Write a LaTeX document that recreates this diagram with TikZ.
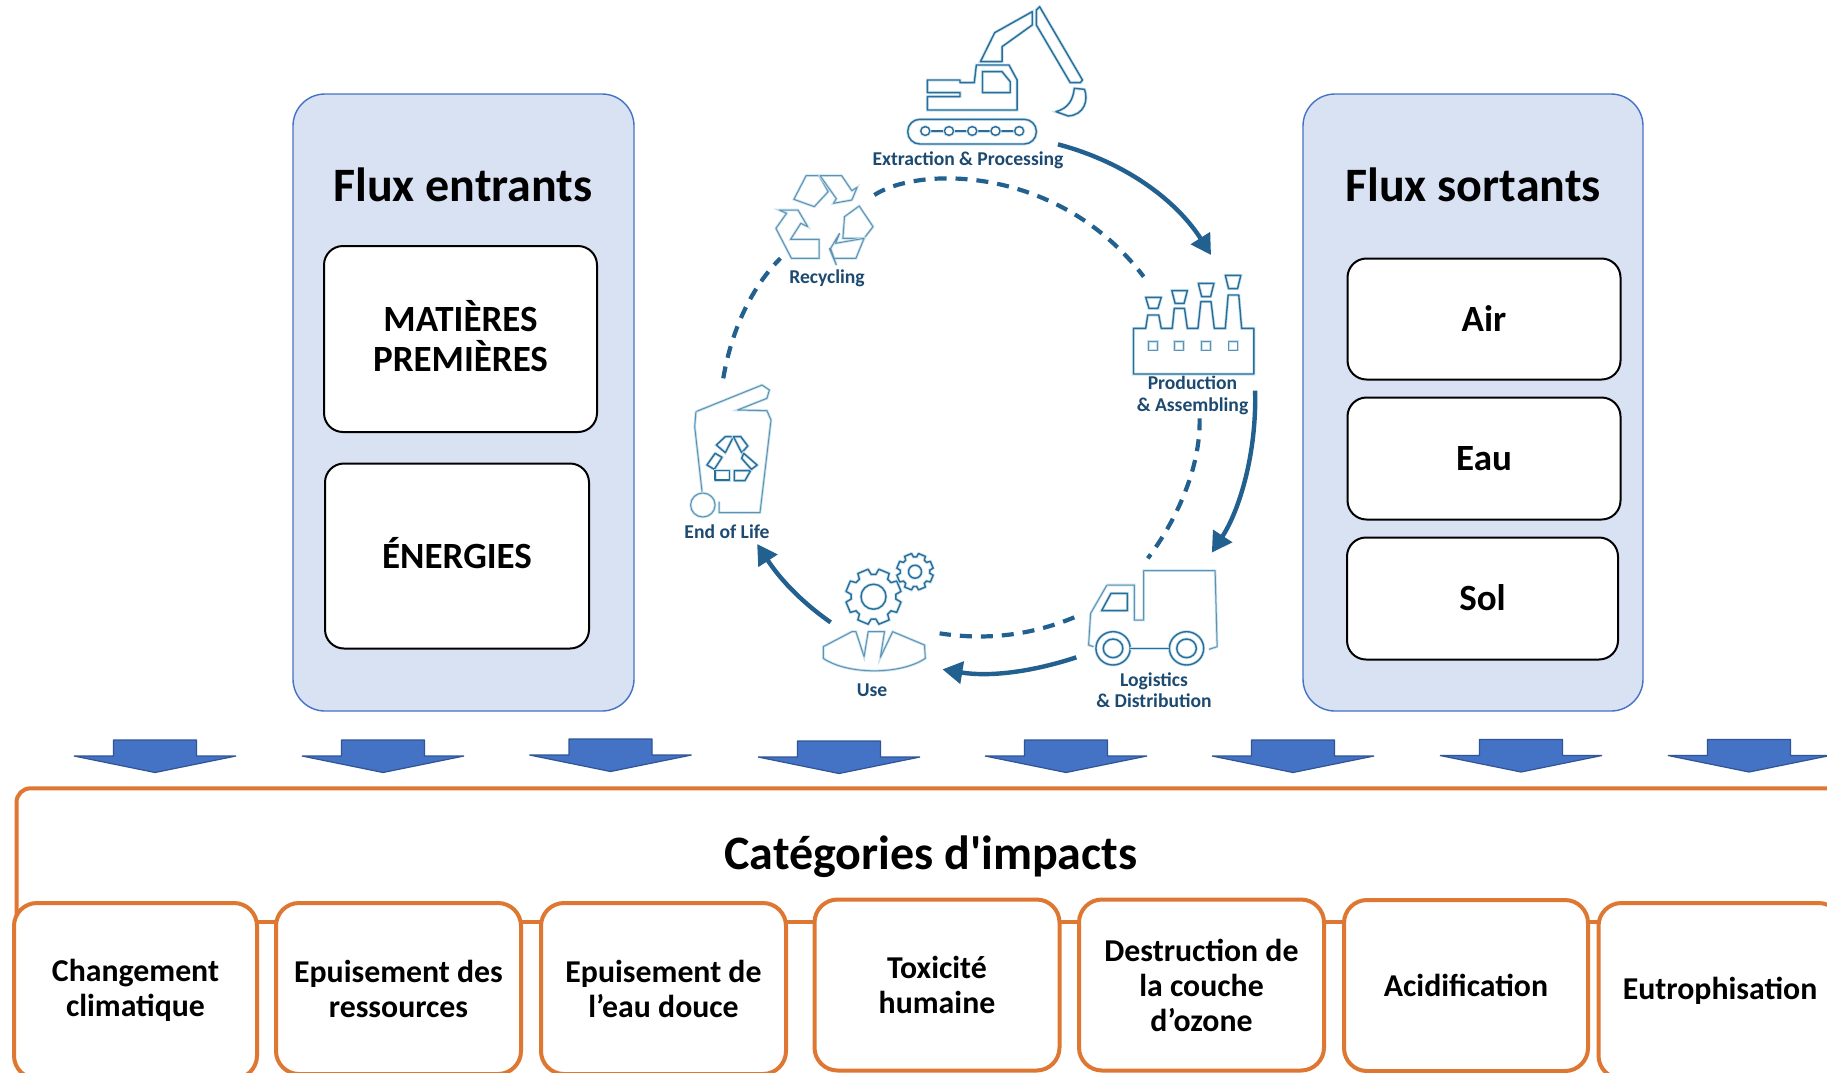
\documentclass[tikz,border=0pt]{standalone}
\usepackage{fontspec}
\newfontfamily\cb{Carlito}
\definecolor{panelfill}{HTML}{D9E2F3}
\definecolor{panelline}{HTML}{4472C4}
\definecolor{arrowline}{HTML}{2F5597}
\definecolor{orangeline}{HTML}{DE7731}
\definecolor{cyc}{HTML}{22608F}
\definecolor{cyctext}{HTML}{1D4A70}
\definecolor{halo}{HTML}{C4E2EE}
\definecolor{icon}{HTML}{2C6C98}
\usetikzlibrary{arrows.meta}
\tikzset{
 panel/.style={draw=panelline,fill=panelfill,line width=1.4pt,rounded corners=32pt,rectangle,inner sep=0pt},
 whitebox/.style={draw=black,fill=white,line width=2pt,rounded corners=19pt,rectangle,inner sep=0pt,align=center,font=\cb\bfseries\fontsize{37}{40}\selectfont},
 paneltitle/.style={inner sep=0pt,font=\cb\bfseries\fontsize{48}{54}\selectfont,text=black},
 impactbox/.style={draw=orangeline,fill=white,line width=4pt,rounded corners=23pt,rectangle,inner sep=0pt,align=center,font=\cb\bfseries\fontsize{31.8}{35}\selectfont},
 downarrow/.style={fill=panelline,draw=arrowline,line width=1.2pt,line join=bevel},
 cycarrow/.style={draw=cyc,line width=4.4pt,-{Triangle[length=20pt,width=22pt]}},
 cycdash/.style={draw=cyc,line width=4.2pt,dash pattern=on 12pt off 9pt},
 iconline/.style={draw=icon,line width=1.4pt,line join=round,preaction={draw=halo,line width=3pt}},
 lightline/.style={draw=icon!75,line width=1pt,line join=round,preaction={draw=halo,line width=2.6pt}},
 iconlabel/.style={inner sep=0pt,align=center,text=cyctext,font=\cb\bfseries\fontsize{19.6}{21.5}\selectfont},
}
\newcommand{\gearicon}[4]{% x, y, outer radius, inner radius
 \begin{scope}[shift={(#1,#2)},x=1pt,y=1pt]
  \draw[iconline] (0:{#3*.8})
   \foreach \a in {0,45,...,315}{
     -- ({\a+6}:{#3*.8}) -- ({\a+11}:#3) -- ({\a+34}:#3) -- ({\a+39}:{#3*.8}) -- ({\a+45}:{#3*.8})
   } -- cycle;
  \draw[iconline] (0,0) circle (#4);
 \end{scope}}
\newcommand{\downblock}[2]{% centre x, top y
 \draw[downarrow] ({#1-41.5},#2) -- ({#1+41.5},#2) -- ({#1+41.5},{#2+16}) -- ({#1+81},{#2+16}) -- (#1,{#2+32.5}) -- ({#1-81},{#2+16}) -- ({#1-41.5},{#2+16}) -- cycle;}
\begin{document}
\begin{tikzpicture}[x=1pt,y=-1pt]
\useasboundingbox (0,0) rectangle (1827,1072);
\clip (0,0) rectangle (1827,1072);
\fill[white] (0,0) rectangle (1827,1072);

% side panels
\node[panel,minimum width=341pt,minimum height=617pt] (leftpanel) at (463.5,402.5) {};
\node[panel,minimum width=340pt,minimum height=617pt] (rightpanel) at (1473,402.5) {};
\node[paneltitle] (fluxin) at (463,184.5) {Flux entrants};
\node[paneltitle] (fluxout) at (1473,184.5) {Flux sortants};
\node[whitebox,minimum width=273pt,minimum height=186pt] (matieres) at (460.5,339) {\raisebox{5.5pt}{MATIÈRES}\\\raisebox{5.5pt}{PREMIÈRES}};
\node[whitebox,minimum width=264pt,minimum height=185pt] (energies) at (457,556) {\raisebox{6.5pt}{ÉNERGIES}};
\node[whitebox,minimum width=273pt,minimum height=121pt] (air) at (1484,319) {\raisebox{1pt}{Air}};
\node[whitebox,minimum width=273pt,minimum height=122pt] (eau) at (1484,458.5) {\raisebox{1pt}{Eau}};
\node[whitebox,minimum width=271pt,minimum height=122pt] (sol) at (1482.5,598.5) {\raisebox{1pt}{Sol}};

% down arrows
\downblock{155}{740}
\downblock{383}{740}
\downblock{610.5}{739}
\downblock{839}{741}
\downblock{1066}{740}
\downblock{1293}{740}
\downblock{1521}{739.5}
\downblock{1749}{739.5}

% impacts
\draw[draw=orangeline,line width=4pt,rounded corners=14pt] (16.5,925) -- (16.5,788.3) -- (1900,788.3);
\draw[draw=orangeline,line width=4pt] (16.5,921.7) -- (1900,921.7);
\node[paneltitle] (impacttitle) at (931,857) {Catégories d'impacts};
\node[impactbox,minimum width=243pt,minimum height=175.6pt] (b1) at (135.5,990.8) {Changement\\climatique};
\node[impactbox,minimum width=245pt,minimum height=171pt] (b2) at (398.5,988.5) {Epuisement des\\ressources};
\node[impactbox,minimum width=245pt,minimum height=171pt] (b3) at (663.5,988.5) {Epuisement de\\l’eau douce};
\node[impactbox,minimum width=245pt,minimum height=171pt] (b4) at (937,985) {Toxicité\\humaine};
\node[impactbox,minimum width=245pt,minimum height=171pt] (b5) at (1201.5,985) {Destruction de\\la couche\\d’ozone};
\node[impactbox,minimum width=244pt,minimum height=171pt] (b6) at (1466,985.5) {Acidification};
\node[impactbox,minimum width=243pt,minimum height=175.6pt] (b7) at (1720,990.8) {Eutrophisation};

% cycle labels
\node[iconlabel] (lextract) at (968,160.5) {Extraction \& Processing};
\node[iconlabel] (lrecycle) at (827,278) {Recycling};
\node[iconlabel] (lprod) at (1192.5,395.5) {Production\\\& Assembling};
\node[iconlabel] (llife) at (727,532) {End of Life};
\node[iconlabel] (luse) at (872,690) {Use};
\node[iconlabel] (llog) at (1154,690) {Logistics\\\& Distribution};

% gears
\gearicon{873.5}{596.7}{28}{12.5}
\gearicon{915}{571.7}{18.5}{6.5}

% icons and cycle connectors drawn in the upper zoom frame
\begin{scope}[shift={(660pt,0pt)},x=.40816pt,y=-.33333pt]
 % excavator
 \draw[iconline] (912,35) -- (820,98) -- (785,185) -- (838,185) -- (838,140) -- (912,75) -- cycle;
 \draw[iconline] (930,20) -- (1035,240) -- (1030,248) -- (1005,248) -- (922,75) -- (922,30) -- cycle;
 \draw[iconline] (1015,265) -- (1040,268) .. controls (1050,300) and (1040,345) .. (1000,348) -- (970,335) .. controls (1000,325) and (1012,300) .. (1015,265) -- cycle;
 \draw[iconline] (655,330) -- (655,290) -- (735,290) -- (735,278) -- (655,278) -- (655,240) -- (735,240) -- (735,248) -- (770,248) -- (775,195) -- (855,195) -- (875,240) -- (875,330) -- cycle;
 \draw[iconline] (790,215) -- (838,215) -- (858,245) -- (858,278) -- (790,278) -- cycle;
 \draw[iconline,rounded corners=12pt] (607,358) rectangle (922,432);
 \draw[iconline] (650,393) -- (880,393);
 \foreach \rx in {650,708,765,822,880}{\draw[iconline,fill=white] (\rx,393) circle [x radius=11,y radius=13];}
 % recycling sign
 \draw[lightline] (358,527) -- (390,527) -- (412,575) -- (378,620) -- (328,598) -- cycle;
 \draw[lightline] (392,527) -- (445,527) -- (470,572) -- (483,562) -- (470,600) -- (425,610) -- (432,596) -- cycle;
 \draw[lightline] (488,618) -- (522,680) -- (500,715) -- (448,715) -- (452,650) -- cycle;
 \draw[lightline] (440,700) -- (430,730) -- (500,715) -- (480,775) -- (425,775) -- (415,745) -- (432,795) -- (418,745) -- cycle;
 \draw[lightline] (292,630) -- (338,630) -- (362,680) -- (345,670) -- (320,718) -- (390,718) -- (390,775) -- (322,775) -- (284,685) -- (310,640) -- cycle;
 % factory
 \draw[iconline] (1160,985) -- (1190,985) -- (1195,945) -- (1222,945) -- (1228,985) -- (1255,985) -- (1260,925) -- (1285,925) -- (1292,985) -- (1318,985) -- (1325,905) -- (1350,905) -- (1358,985) -- (1385,985) -- (1392,885) -- (1418,885) -- (1425,985) -- (1455,985) -- (1455,1122) -- (1160,1122) -- cycle;
 \foreach \wx in {1208,1272,1338,1405}{\draw[lightline] (\wx-11,1024) rectangle (\wx+11,1050);}
 \draw[iconline] (1190,892) -- (1228,892) -- (1220,925) -- (1198,925) -- cycle;
 \draw[iconline] (1254,872) -- (1292,872) -- (1284,910) -- (1262,910) -- cycle;
 \draw[iconline] (1319,850) -- (1357,850) -- (1349,890) -- (1327,890) -- cycle;
 \draw[iconline] (1385,826) -- (1423,826) -- (1415,866) -- (1393,866) -- cycle;

 \coordinate (a1s) at (975,433);
 \coordinate (a1e) at (1350,765);
 \coordinate (d1s) at (155,1135);
 \coordinate (d1e) at (295,775);
 \coordinate (d2s) at (525,585);
 \coordinate (d2e) at (1185,830);
 \draw[cycarrow] (a1s) .. controls (1150,490) and (1270,610) .. (a1e);
 \draw[cycdash] (d1s) .. controls (175,990) and (225,860) .. (d1e);
 \draw[cycdash] (d2s) .. controls (640,495) and (980,500) .. (d2e);
\end{scope}

\begin{scope}[shift={(660pt,-370pt)},x=.40816pt,y=-.33333pt]
 % trash can
 \draw[lightline] (88,125) -- (250,45) -- (268,60) -- (262,85) -- (190,120) -- (262,122) -- (272,150) -- (245,428) -- (145,428) -- (145,395);
 \draw[lightline] (88,125) -- (85,170) -- (103,365);
 \draw[lightline] (105,405) circle [x radius=30,y radius=36];
 \draw[iconline] (160,200) -- (180,200) -- (160,248) -- (138,225) -- cycle;
 \draw[iconline] (180,200) -- (198,200) -- (215,228) -- (200,248) -- cycle;
 \draw[iconline] (115,285) -- (135,250) -- (152,262) -- (133,298) -- cycle;
 \draw[iconline] (135,302) -- (170,302) -- (170,330) -- (135,330) -- cycle;
 \draw[iconline] (182,302) -- (222,302) -- (208,332) -- (182,332) -- cycle;
 \draw[iconline] (205,250) -- (238,285) -- (224,298) -- (200,265) -- cycle;
 % use
 \draw[lightline] (470,785) -- (400,830) -- (400,865) .. controls (460,915) and (590,915) .. (650,865) -- (648,825) -- (570,785) -- (540,862) -- (550,785) -- (510,785) -- (500,860) -- (480,785) -- cycle;
 % truck
 \draw[lightline] (1095,645) -- (1162,645) -- (1162,750) -- (1185,750) -- (1185,602) -- (1360,602) -- (1365,830) -- (1345,838);
 \draw[lightline] (1095,645) -- (1055,730) -- (1050,825) -- (1062,830);
 \draw[iconline] (1105,670) -- (1145,670) -- (1145,722) -- (1082,722) -- cycle;
 \draw[iconline] (1110,835) circle [x radius=42,y radius=50];
 \draw[iconline] (1110,835) circle [x radius=24,y radius=28];
 \draw[iconline] (1290,835) circle [x radius=42,y radius=50];
 \draw[iconline] (1290,835) circle [x radius=24,y radius=28];
 \draw[iconline] (1152,835) -- (1248,835);

 \coordinate (a2s) at (1458,62);
 \coordinate (a2e) at (1352,548);
 \coordinate (a3s) at (1020,862);
 \coordinate (a3e) at (692,898);
 \coordinate (a4s) at (418,757);
 \coordinate (a4e) at (238,522);
 \coordinate (d3s) at (1322,145);
 \coordinate (d3e) at (1195,565);
 \coordinate (d4s) at (1015,742);
 \coordinate (d4e) at (685,790);
 \draw[cycarrow] (a2s) .. controls (1462,250) and (1420,420) .. (a2e);
 \draw[cycarrow] (a3s) .. controls (900,910) and (800,920) .. (a3e);
 \draw[cycarrow] (a4s) .. controls (340,690) and (290,620) .. (a4e);
 \draw[cycdash] (d3s) .. controls (1325,300) and (1260,460) .. (d3e);
 \draw[cycdash] (d4s) .. controls (900,800) and (790,810) .. (d4e);
\end{scope}
\end{tikzpicture}
\end{document}
